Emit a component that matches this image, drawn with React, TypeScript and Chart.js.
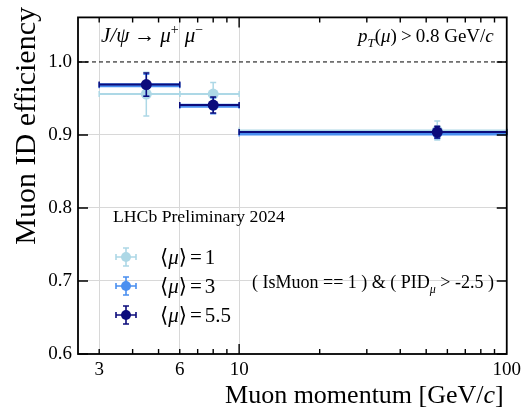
import { useEffect, useRef } from "react";
import { Chart, registerables } from "chart.js";
Chart.register(...registerables);

// ---- data ----
const binLow = [3, 6, 10];
const binHigh = [6, 10, 100];
const binCenter = [4.5, 8.0, 55];
const seriesNames = ["1", "3", "5.5"];
const eff_mu1 = [0.956, 0.956, 0.906];
const err_mu1 = [0.03, 0.016, 0.013];
const eff_mu3 = [0.968, 0.94, 0.902];
const err_mu3 = [0.015, 0.011, 0.007];
const eff_mu55 = [0.969, 0.941, 0.904];
const err_mu55 = [0.016, 0.011, 0.008];
const xTicks = [3, 6, 10, 100];
const xMinorTicks = [3, 4, 5, 6, 7, 8, 9, 20, 30, 40, 50, 60, 70, 80, 90];
const xMajorTicks = [10];
const yTicks = [0.6, 0.7, 0.8, 0.9, 1.0];
const yGridVals = [0.7, 0.8, 0.9];

const COL_LIGHT = "#add8e6";
const COL_BLUE = "#4a8ff0";
const COL_NAVY = "#0c0c7c";
const FAM = '"Liberation Serif", "DejaVu Serif", serif';

type Part = { t: string; it?: boolean; sup?: boolean; sub?: boolean; gap?: number };

function drawRich(ctx: CanvasRenderingContext2D, parts: Part[], x: number, y: number, size: number, align: "left" | "right" | "center") {
  const fontFor = (p: Part) => `${p.it ? "italic " : ""}${p.sup || p.sub ? Math.round(size * 0.68) : size}px ${FAM}`;
  const wOf = (p: Part) => {
    ctx.font = fontFor(p);
    return ctx.measureText(p.t).width + (p.gap || 0);
  };
  let w = 0;
  for (const p of parts) w += wOf(p);
  let cx = align === "right" ? x - w : align === "center" ? x - w / 2 : x;
  ctx.textAlign = "left";
  ctx.textBaseline = "alphabetic";
  for (const p of parts) {
    ctx.font = fontFor(p);
    const dy = p.sup ? -size * 0.4 : p.sub ? size * 0.25 : 0;
    ctx.fillText(p.t, cx, y + dy);
    cx += wOf(p);
  }
}

function makeDataset(label: string, eff: number[], err: number[], color: string, lw: number, radius: number) {
  return {
    label,
    data: binCenter.map((x, i) => ({ x, y: eff[i] })),
    yErr: err,
    xLow: binLow,
    xHigh: binHigh,
    barWidth: lw,
    backgroundColor: color,
    borderColor: color,
    pointRadius: radius,
    pointBorderWidth: 0,
    showLine: false,
  } as any;
}

const errorBarPlugin = {
  id: "errorBars",
  beforeDatasetDraw(chart: any, args: any) {
    const ds = chart.data.datasets[args.index];
    const ctx = chart.ctx as CanvasRenderingContext2D;
    const xs = chart.scales.x;
    const ys = chart.scales.y;
    ctx.save();
    ctx.strokeStyle = ds.borderColor;
    ds.data.forEach((pt: any, i: number) => {
      const py = ys.getPixelForValue(pt.y);
      const px = xs.getPixelForValue(pt.x);
      const x0 = xs.getPixelForValue(ds.xLow[i]);
      const x1 = xs.getPixelForValue(ds.xHigh[i]);
      const yt = ys.getPixelForValue(pt.y + ds.yErr[i]);
      const yb = ys.getPixelForValue(pt.y - ds.yErr[i]);
      ctx.lineWidth = ds.barWidth;
      ctx.beginPath();
      ctx.moveTo(x0, py);
      ctx.lineTo(x1, py);
      ctx.stroke();
      ctx.lineWidth = 1.5;
      ctx.beginPath();
      ctx.moveTo(x0, py - 3);
      ctx.lineTo(x0, py + 3);
      ctx.moveTo(x1, py - 3);
      ctx.lineTo(x1, py + 3);
      ctx.moveTo(px, yt);
      ctx.lineTo(px, yb);
      ctx.moveTo(px - 3, yt);
      ctx.lineTo(px + 3, yt);
      ctx.moveTo(px - 3, yb);
      ctx.lineTo(px + 3, yb);
      ctx.stroke();
    });
    ctx.restore();
  },
};

const decorPlugin = {
  id: "decor",
  beforeDatasetsDraw(chart: any) {
    const ctx = chart.ctx as CanvasRenderingContext2D;
    const a = chart.chartArea;
    const y1 = chart.scales.y.getPixelForValue(1.0);
    ctx.save();
    ctx.strokeStyle = "#000";
    ctx.lineWidth = 1;
    ctx.setLineDash([4, 3]);
    ctx.beginPath();
    ctx.moveTo(a.left, y1);
    ctx.lineTo(a.right, y1);
    ctx.stroke();
    ctx.restore();
  },
  afterDraw(chart: any) {
    const ctx = chart.ctx as CanvasRenderingContext2D;
    const a = chart.chartArea;
    const xs = chart.scales.x;
    const ys = chart.scales.y;
    ctx.save();
    ctx.strokeStyle = "#000";
    ctx.lineWidth = 1.8;
    ctx.strokeRect(a.left, a.top, a.right - a.left, a.bottom - a.top);
    ctx.lineWidth = 1.4;
    ctx.beginPath();
    for (const v of xMinorTicks) {
      const px = xs.getPixelForValue(v);
      ctx.moveTo(px, a.bottom);
      ctx.lineTo(px, a.bottom - 5);
      ctx.moveTo(px, a.top);
      ctx.lineTo(px, a.top + 5);
    }
    for (const v of xMajorTicks) {
      const px = xs.getPixelForValue(v);
      ctx.moveTo(px, a.bottom);
      ctx.lineTo(px, a.bottom - 10);
      ctx.moveTo(px, a.top);
      ctx.lineTo(px, a.top + 10);
    }
    for (const v of yTicks) {
      const py = ys.getPixelForValue(v);
      ctx.moveTo(a.left, py);
      ctx.lineTo(a.left + 10, py);
      ctx.moveTo(a.right, py);
      ctx.lineTo(a.right - 10, py);
    }
    ctx.stroke();

    ctx.fillStyle = "#000";
    // axis titles
    drawRich(ctx, [{ t: "Muon momentum [GeV/" }, { t: "c", it: true }, { t: "]" }], a.right - 3, 403, 26, "right");
    ctx.save();
    ctx.translate(35, 7);
    ctx.rotate(-Math.PI / 2);
    drawRich(ctx, [{ t: "Muon ID efficiency" }], 0, 0, 30, "right");
    ctx.restore();

    // annotations
    drawRich(
      ctx,
      [
        { t: "J/ψ", it: true, gap: 5 },
        { t: "→", gap: 5 },
        { t: "μ", it: true },
        { t: "+", sup: true, gap: 6 },
        { t: "μ", it: true },
        { t: "−", sup: true },
      ],
      101,
      42,
      21,
      "left"
    );
    drawRich(
      ctx,
      [
        { t: "p", it: true },
        { t: "T", it: true, sub: true },
        { t: "(" },
        { t: "μ", it: true },
        { t: ")", gap: 4 },
        { t: ">", gap: 4 },
        { t: "0.8 GeV/" },
        { t: "c", it: true },
      ],
      a.right - 13,
      42,
      19,
      "right"
    );
    drawRich(ctx, [{ t: "LHCb Preliminary 2024" }], 113, 222, 17.7, "left");
    drawRich(
      ctx,
      [{ t: "( IsMuon == 1 ) & ( PID" }, { t: "μ", it: true, sub: true }, { t: " > -2.5 )" }],
      252,
      288,
      18,
      "left"
    );

    // legend
    const legendItems = [
      { name: seriesNames[0], color: COL_LIGHT, y: 257 },
      { name: seriesNames[1], color: COL_BLUE, y: 286 },
      { name: seriesNames[2], color: COL_NAVY, y: 315 },
    ];
    for (const it of legendItems) {
      const mx = 126;
      ctx.strokeStyle = it.color;
      ctx.fillStyle = it.color;
      ctx.lineWidth = 1.6;
      ctx.beginPath();
      ctx.moveTo(mx - 10, it.y);
      ctx.lineTo(mx + 10, it.y);
      ctx.moveTo(mx, it.y - 9);
      ctx.lineTo(mx, it.y + 9);
      ctx.moveTo(mx - 3, it.y - 9);
      ctx.lineTo(mx + 3, it.y - 9);
      ctx.moveTo(mx - 3, it.y + 9);
      ctx.lineTo(mx + 3, it.y + 9);
      ctx.moveTo(mx - 10, it.y - 3);
      ctx.lineTo(mx - 10, it.y + 3);
      ctx.moveTo(mx + 10, it.y - 3);
      ctx.lineTo(mx + 10, it.y + 3);
      ctx.stroke();
      ctx.beginPath();
      ctx.arc(mx, it.y, 5, 0, Math.PI * 2);
      ctx.fill();
      ctx.fillStyle = "#000";
      drawRich(
        ctx,
        [{ t: "⟨" }, { t: "μ", it: true }, { t: "⟩", gap: 3 }, { t: "=", gap: 3 }, { t: it.name }],
        160,
        it.y + 7,
        21,
        "left"
      );
    }
    ctx.restore();
  },
};

export default function App() {
  const ref = useRef<HTMLCanvasElement | null>(null);
  useEffect(() => {
    if (!ref.current) return;
    const chart = new Chart(ref.current, {
      type: "scatter",
      data: {
        datasets: [
          makeDataset("mu55", eff_mu55, err_mu55, COL_NAVY, 2, 5.5),
          makeDataset("mu3", eff_mu3, err_mu3, COL_BLUE, 4, 5),
          makeDataset("mu1", eff_mu1, err_mu1, COL_LIGHT, 2, 5.5),
        ],
      },
      options: {
        animation: false,
        responsive: false,
        devicePixelRatio: 1,
        layout: { padding: { left: 0, top: 8, right: 16, bottom: 0 } },
        plugins: { legend: { display: false }, tooltip: { enabled: false } },
        scales: {
          x: {
            type: "logarithmic",
            min: 2.5,
            max: 100,
            afterBuildTicks: (s: any) => {
              s.ticks = xTicks.map((v) => ({ value: v }));
            },
            afterFit: (s: any) => {
              s.height = 54;
            },
            ticks: {
              autoSkip: false,
              maxRotation: 0,
              padding: 5,
              color: "#000",
              font: { family: FAM, size: 19 },
              callback: (v: any) => String(v),
            },
            grid: {
              drawTicks: false,
              color: (c: any) => (c.tick && c.tick.value < 99 ? "#d8d8d8" : "rgba(0,0,0,0)"),
              lineWidth: 1,
            },
            border: { display: false },
          },
          y: {
            type: "linear",
            min: 0.6,
            max: 1.061,
            afterBuildTicks: (s: any) => {
              s.ticks = yTicks.map((v) => ({ value: v }));
            },
            afterFit: (s: any) => {
              s.width = 78;
            },
            ticks: {
              padding: 6,
              color: "#000",
              font: { family: FAM, size: 19 },
              callback: (v: any) => Number(v).toFixed(1),
            },
            grid: {
              drawTicks: false,
              color: (c: any) =>
                c.tick && yGridVals.some((g) => Math.abs(g - c.tick.value) < 1e-6) ? "#d8d8d8" : "rgba(0,0,0,0)",
              lineWidth: 1,
            },
            border: { display: false },
          },
        },
      } as any,
      plugins: [errorBarPlugin, decorPlugin],
    });
    return () => chart.destroy();
  }, []);
  return (
    <div style={{ position: "absolute", left: 0, top: 0, width: 526, height: 408, background: "#fff" }}>
      <canvas ref={ref} width={526} height={408} style={{ display: "block", width: 526, height: 408 }} />
    </div>
  );
}
